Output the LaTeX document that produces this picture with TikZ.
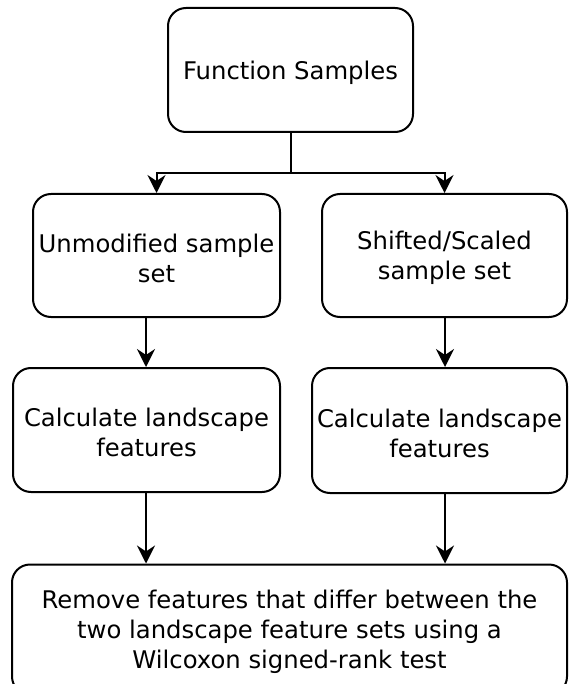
\documentclass[tikz,border=0pt]{standalone}
\usepackage{fontspec}
\setmainfont{DejaVu Sans}
\usetikzlibrary{arrows.meta,calc}
\newcommand{\fstrut}{\rule{0pt}{24pt}}
\begin{document}
\begin{tikzpicture}[x=1pt,y=-1pt,
  box/.style={draw=black,line width=2pt,rounded corners=18pt,align=center,
    inner sep=0pt,font=\fontsize{24.3}{30}\selectfont},
  arr/.style={line width=2pt,-{Stealth[length=18pt,width=18pt,inset=6pt]}},
  ln/.style={line width=2pt}]
\useasboundingbox (0,0) rectangle (568,684);
\node[box,minimum width=245pt,minimum height=124pt] (top) at (290.5,70) {\fstrut Function Samples};
\node[box,minimum width=247pt,minimum height=123pt] (l1) at (156.5,255.5) {\fstrut Unmodified sample\\set};
\node[box,minimum width=245pt,minimum height=123pt] (r1) at (444.5,255.5) {\fstrut Shifted/Scaled\\sample set};
\node[box,minimum width=267pt,minimum height=124pt] (l2) at (146.5,430) {\fstrut Calculate landscape\\features};
\node[box,minimum width=255pt,minimum height=125pt] (r2) at (439.5,430.5) {\fstrut Calculate landscape\\features};
\node[box,minimum width=555pt,minimum height=130pt] (bot) at (289.5,629.5) {\fstrut Remove features that differ between the\\two landscape feature sets using a\\Wilcoxon signed-rank test};
\coordinate (split) at (290.5,173);
\coordinate (la) at (146,0);
\coordinate (ra) at (445,0);
\draw[ln] (top.south) -- (split);
\draw[arr] (split) -| (l1.north);
\draw[arr] (split) -| (r1.north);
\draw[arr] (l1.south -| la) -- (l2.north -| la);
\draw[arr] (r1.south -| ra) -- (r2.north -| ra);
\draw[arr] (l2.south -| la) -- (bot.north -| la);
\draw[arr] (r2.south -| ra) -- (bot.north -| ra);
\end{tikzpicture}
\end{document}
